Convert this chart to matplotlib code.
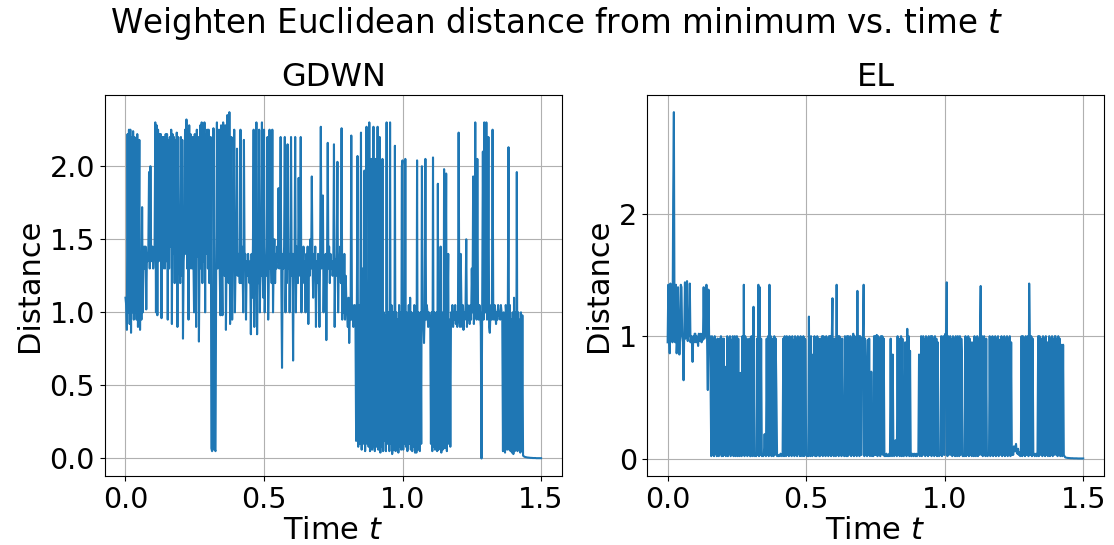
import numpy as np
import matplotlib
matplotlib.use('Agg')
import matplotlib.pyplot as plt

# sample spacing of the recorded distances
dt = 0.0025

# GDWN: distance from minimum, one value every dt, starting at t = 0
gdwn = [
    1.10, 1.05, 0.88, 2.22, 1.00, 2.25, 0.92, 2.25, 0.86, 2.20, 1.00, 2.24, 0.95, 2.20, 1.00, 1.40, 0.95, 2.22, 0.90, 1.40,  # 0.00
    2.18, 0.88, 1.40, 0.95, 1.72, 1.00, 1.35, 1.45, 1.30, 1.45, 1.02, 1.40, 1.35, 1.45, 1.96, 1.30, 2.00, 1.40, 1.35, 1.45,  # 0.05
    1.30, 1.38, 1.45, 2.30, 1.00, 2.28, 0.98, 2.25, 1.35, 2.22, 1.60, 2.22, 0.96, 2.20, 1.30, 2.20, 1.60, 1.30, 2.22, 1.35,  # 0.10
    2.22, 0.95, 2.18, 1.30, 2.20, 1.45, 2.25, 0.92, 2.22, 1.40, 2.20, 1.20, 2.18, 1.35, 2.23, 0.90, 2.20, 1.30, 1.40, 1.20,  # 0.15
    2.20, 1.25, 2.18, 0.82, 1.35, 1.45, 2.25, 1.40, 2.32, 1.30, 2.25, 0.95, 2.28, 1.30, 2.22, 1.45, 1.30, 2.20, 1.40, 1.00,  # 0.20
    2.22, 1.45, 0.90, 2.25, 1.38, 2.20, 0.80, 1.40, 2.28, 1.30, 2.30, 1.20, 2.25, 1.35, 2.30, 1.00, 2.22, 1.40, 2.25, 1.30,  # 0.25
    2.25, 1.20, 1.40, 2.20, 0.07, 0.05, 0.06, 2.26, 1.30, 0.06, 0.05, 1.35, 2.30, 1.30, 1.40, 2.25, 1.30, 0.98, 2.28, 1.35,  # 0.30
    0.98, 2.30, 1.35, 1.25, 2.28, 0.88, 1.40, 2.35, 1.30, 1.20, 2.37, 0.92, 1.35, 2.20, 0.95, 1.40, 1.30, 2.25, 1.00, 1.35,  # 0.35
    1.30, 2.12, 1.25, 1.40, 1.35, 1.20, 2.25, 1.20, 1.45, 1.32, 1.00, 2.18, 1.30, 1.40, 0.95, 1.35, 1.25, 1.40, 1.30, 1.20,  # 0.40
    1.35, 0.85, 1.40, 1.10, 1.45, 2.25, 0.90, 1.40, 1.30, 2.30, 0.85, 1.38, 1.20, 2.25, 1.00, 1.35, 1.25, 2.30, 1.30, 1.10,  # 0.45
    2.25, 1.00, 1.35, 1.25, 1.45, 2.20, 0.95, 1.30, 2.25, 1.30, 1.45, 1.20, 2.25, 1.00, 1.35, 1.50, 1.20, 1.40, 1.30, 1.45,  # 0.50
    1.35, 1.85, 1.30, 1.40, 2.20, 1.20, 0.62, 1.40, 1.30, 1.45, 2.20, 1.00, 1.35, 1.20, 2.15, 1.30, 1.40, 1.00, 1.35, 2.20,  # 0.55
    1.25, 1.40, 0.67, 1.40, 1.30, 2.20, 1.00, 1.45, 1.30, 1.20, 1.92, 1.35, 1.25, 2.20, 1.00, 1.40, 1.30, 1.45, 1.20, 1.35,  # 0.60
    1.00, 1.40, 1.20, 1.45, 0.92, 1.35, 1.25, 1.50, 1.30, 1.93, 1.35, 1.10, 1.40, 1.25, 1.45, 0.90, 1.35, 1.20, 1.40, 1.30,  # 0.65
    0.90, 1.38, 2.27, 1.30, 1.45, 1.80, 1.00, 1.35, 1.25, 1.40, 0.81, 1.35, 2.16, 1.30, 1.45, 1.20, 1.40, 1.30, 1.35, 1.25,  # 0.70
    1.30, 2.15, 0.90, 1.36, 1.25, 1.40, 2.03, 1.00, 1.38, 1.30, 1.45, 1.20, 2.26, 0.95, 1.30, 1.00, 1.40, 0.95, 1.25, 1.05,  # 0.75
    1.00, 0.90, 1.10, 0.79, 1.00, 0.95, 2.21, 0.95, 1.05, 0.90, 1.00, 1.05, 0.95, 0.12, 1.00, 2.07, 0.08, 1.05, 0.10, 1.00,  # 0.80
    2.23, 0.06, 1.30, 0.10, 0.15, 1.97, 0.05, 1.00, 2.27, 0.10, 1.04, 0.08, 2.30, 0.05, 0.12, 2.05, 0.06, 1.00, 2.27, 0.10,  # 0.85
    0.05, 2.05, 0.08, 1.00, 2.27, 0.06, 0.10, 2.20, 0.04, 1.00, 0.08, 2.05, 0.05, 1.00, 0.12, 0.98, 0.05, 2.30, 0.10, 1.00,  # 0.90
    1.00, 0.05, 2.30, 0.10, 1.05, 0.03, 0.08, 1.00, 0.06, 2.14, 0.05, 1.00, 0.10, 0.95, 0.04, 1.05, 0.08, 1.00, 0.06, 2.00,  # 0.95
    2.04, 0.06, 1.00, 0.10, 2.05, 0.08, 1.00, 0.05, 0.12, 1.05, 0.10, 1.10, 0.06, 1.00, 0.05, 0.95, 0.08, 1.05, 0.04, 1.00,  # 1.00
    0.04, 2.04, 0.06, 1.00, 0.08, 0.05, 1.00, 0.10, 2.00, 1.00, 0.95, 0.79, 1.00, 2.05, 0.95, 1.05, 1.00, 0.90, 1.00, 0.95,  # 1.05
    0.95, 0.10, 1.00, 0.05, 2.06, 0.08, 1.00, 0.06, 0.10, 1.00, 0.05, 1.88, 0.06, 1.00, 0.08, 1.45, 0.04, 1.00, 0.06, 0.10,  # 1.10
    1.98, 0.07, 1.00, 1.95, 0.05, 1.00, 1.40, 0.10, 0.95, 0.08, 1.00, 0.95, 1.05, 0.90, 1.00, 0.95, 1.05, 0.92, 1.00, 0.90,  # 1.15
    0.95, 2.23, 1.00, 0.90, 1.40, 1.05, 0.90, 1.05, 0.88, 1.00, 0.95, 1.05, 1.50, 0.90, 1.05, 0.95, 1.00, 0.92, 1.05, 0.95,  # 1.20
    1.30, 1.00, 1.93, 0.92, 1.05, 2.30, 1.00, 0.95, 2.05, 1.00, 0.95, 1.05, 1.00, 0.90, 0.00, 1.00, 2.10, 0.95, 2.30, 1.00,  # 1.25
    1.00, 2.30, 0.95, 1.05, 2.20, 0.90, 0.86, 1.00, 1.05, 0.95, 2.25, 1.00, 0.95, 1.05, 1.00, 0.92, 1.00, 0.95, 1.05, 0.98,  # 1.30
    1.00, 0.95, 1.05, 1.00, 0.95, 0.05, 1.00, 0.08, 0.04, 1.05, 0.98, 0.06, 1.00, 2.13, 0.06, 1.05, 0.05, 0.95, 0.04, 1.00,  # 1.35
    0.03, 1.10, 0.05, 1.00, 0.06, 1.96, 0.05, 1.00, 0.06, 0.95, 0.04, 1.00, 0.05, 0.98, 0.02,                                # 1.40
    0.015, 0.012, 0.010, 0.009, 0.008, 0.007, 0.006, 0.006, 0.005, 0.005, 0.004, 0.004, 0.004,                                # 1.4375
    0.003, 0.003, 0.003, 0.003, 0.003, 0.002, 0.002, 0.002, 0.002, 0.002, 0.002, 0.002, 0.002,
]

# EL: distance from minimum, same sampling
el = [
    0.95, 1.42, 1.00, 0.86, 1.43, 1.00, 1.40, 0.95, 2.11, 2.83, 1.00, 0.95, 1.42, 0.86, 1.00, 1.40, 1.02, 0.85, 1.00, 1.42,  # 0.00
    1.40, 1.00, 0.95, 0.64, 1.02, 1.44, 0.98, 1.00, 1.45, 0.96, 1.02, 1.00, 1.43, 0.95, 1.00, 0.98, 0.79, 1.00, 0.95, 1.02,  # 0.05
    1.02, 0.95, 1.00, 0.98, 0.92, 1.02, 1.00, 0.96, 1.02, 0.95, 1.00, 0.97, 1.40, 0.98, 1.38, 1.00, 1.42, 0.95, 0.56, 1.38,  # 0.10
    0.95, 1.00, 0.60, 0.02, 1.00, 0.03, 0.98, 0.02, 1.00, 0.04, 0.85, 0.02, 0.98, 0.03, 0.02, 0.98, 0.04, 1.00, 0.02, 0.98,  # 0.15
    0.02, 0.98, 0.03, 0.75, 0.02, 0.03, 1.00, 0.02, 0.98, 0.04, 1.00, 0.02, 0.97, 0.03, 1.00, 0.02, 0.03, 1.00, 0.02, 0.98,  # 0.20
    1.00, 0.02, 0.98, 0.03, 0.02, 0.70, 0.03, 0.02, 1.00, 0.03, 1.42, 0.02, 1.00, 0.03, 0.98, 0.02, 0.03, 0.04, 0.98, 0.02,  # 0.25
    0.02, 1.00, 0.03, 0.02, 1.24, 0.03, 0.02, 0.04, 0.02, 0.98, 0.03, 1.42, 0.02, 1.40, 0.03, 0.98, 0.02, 0.03, 0.02, 0.04,  # 0.30
    0.20, 0.03, 0.02, 0.98, 0.03, 1.00, 0.02, 1.42, 0.03, 1.00, 0.02, 0.98, 0.03, 0.02, 1.00, 0.03, 0.98, 0.55, 0.02, 0.03,  # 0.35
    0.02, 0.03, 0.02, 0.04, 0.03, 0.02, 0.03, 0.98, 0.02, 1.00, 0.03, 0.02, 1.00, 0.03, 0.98, 0.02, 1.00, 0.03, 0.98, 0.02,  # 0.40
    1.00, 0.03, 0.97, 0.02, 1.00, 0.03, 0.98, 0.02, 1.00, 0.04, 0.98, 0.02, 1.00, 0.03, 0.02, 0.03, 1.00, 0.02, 0.98, 0.97,  # 0.45
    0.03, 0.02, 0.03, 0.02, 1.16, 0.03, 0.02, 1.00, 0.03, 0.02, 0.85, 0.03, 1.00, 0.02, 0.03, 0.02, 1.00, 0.03, 0.98, 0.02,  # 0.50
    0.02, 0.98, 0.03, 1.00, 0.02, 1.00, 0.03, 0.98, 0.02, 1.00, 0.03, 0.98, 0.02, 1.00, 0.03, 1.00, 0.02, 0.98, 1.31, 0.03,  # 0.55
    0.02, 0.98, 0.03, 0.02, 1.42, 0.03, 1.00, 0.02, 1.00, 0.03, 0.98, 0.02, 0.98, 0.03, 0.45, 0.02, 1.00, 0.03, 0.02, 1.00,  # 0.60
    0.02, 1.00, 0.03, 0.98, 1.00, 0.02, 0.98, 0.03, 1.02, 0.02, 1.00, 0.03, 0.98, 0.02, 1.37, 0.03, 1.00, 0.02, 1.00, 0.03,  # 0.65
    0.03, 0.98, 1.00, 1.42, 0.02, 0.98, 0.75, 0.03, 0.02, 0.97, 0.03, 0.98, 0.02, 0.03, 0.71, 0.02, 0.03, 0.02, 1.00, 0.03,  # 0.70
    1.00, 0.03, 1.01, 0.02, 1.00, 0.03, 0.98, 0.02, 1.00, 0.04, 1.00, 0.03, 0.98, 0.02, 0.03, 0.02, 0.04, 0.02, 0.03, 0.02,  # 0.75
    0.04, 0.02, 0.98, 0.03, 0.02, 0.85, 0.03, 0.02, 0.04, 0.15, 0.03, 0.02, 1.00, 0.03, 0.98, 0.02, 0.03, 1.00, 0.02, 0.98,  # 0.80
    0.03, 0.02, 0.04, 0.95, 0.03, 0.02, 1.06, 0.03, 1.00, 0.02, 0.88, 0.03, 0.02, 0.04, 0.03, 0.02, 0.04, 0.03, 0.02, 0.04,  # 0.85
    0.02, 0.03, 0.04, 0.85, 0.02, 0.03, 1.00, 0.02, 0.98, 1.00, 0.03, 0.98, 0.02, 1.00, 0.03, 0.98, 0.02, 1.00, 0.03, 0.98,  # 0.90
    1.00, 0.02, 1.00, 0.97, 0.03, 0.02, 1.00, 0.03, 0.98, 0.02, 0.95, 0.03, 0.02, 0.04, 0.03, 1.00, 0.02, 0.98, 1.00, 0.03,  # 0.95
    0.03, 1.02, 0.98, 1.44, 0.02, 1.00, 0.03, 0.98, 1.00, 0.03, 0.98, 0.02, 1.00, 0.03, 0.98, 0.02, 1.00, 0.03, 0.02, 1.00,  # 1.00
    0.98, 0.02, 1.00, 0.03, 0.98, 0.80, 0.02, 0.03, 0.02, 0.03, 1.00, 0.02, 0.98, 0.03, 1.00, 0.02, 0.98, 0.03, 0.95, 0.02,  # 1.05
    0.03, 0.95, 0.02, 1.00, 0.03, 0.02, 0.03, 1.00, 0.02, 0.98, 0.03, 1.00, 1.41, 0.03, 1.00, 0.02, 0.98, 1.00, 0.03, 0.02,  # 1.10
    0.98, 0.03, 0.02, 0.04, 0.03, 1.00, 0.02, 0.98, 0.03, 1.00, 0.02, 0.98, 0.03, 1.00, 0.02, 0.98, 0.03, 1.00, 0.02, 0.97,  # 1.15
    0.97, 0.03, 1.00, 0.02, 0.98, 0.03, 1.00, 0.02, 0.98, 0.03, 1.00, 0.02, 0.98, 0.03, 1.00, 0.02, 0.95, 0.03, 0.05, 0.03,  # 1.20
    0.10, 0.06, 0.08, 0.12, 0.05, 0.04, 0.08, 0.03, 0.05, 0.02, 0.03, 1.00, 0.02, 1.00, 0.03, 0.98, 0.02, 1.00, 0.03, 0.98,  # 1.25
    1.00, 0.02, 1.43, 0.98, 0.03, 1.00, 0.02, 0.98, 0.03, 0.04, 0.02, 0.03, 0.04, 0.02, 0.03, 1.00, 0.02, 1.00, 0.03, 0.98,  # 1.30
    0.98, 0.02, 1.00, 0.03, 0.98, 0.02, 1.00, 0.03, 0.95, 0.02, 0.03, 1.00, 0.02, 0.98, 0.03, 1.00, 0.02, 0.98, 0.03, 1.00,  # 1.35
    1.00, 0.03, 0.98, 0.02, 1.00, 0.03, 0.98, 0.02, 0.93, 0.03, 0.02, 0.93, 0.03, 0.02, 0.01,                                # 1.40
    0.008, 0.007, 0.006, 0.005, 0.005, 0.004, 0.004, 0.003, 0.003, 0.003, 0.003, 0.002, 0.002,                                # 1.4375
    0.002, 0.002, 0.002, 0.002, 0.001, 0.001, 0.001, 0.001, 0.001, 0.001, 0.001, 0.001, 0.001,
]

series = [('GDWN', gdwn), ('EL', el)]

fig, axes = plt.subplots(1, 2, figsize=(11.14, 5.45), dpi=100)
fig.subplots_adjust(left=0.094, right=0.991, bottom=0.127, top=0.826, wspace=0.186)

for ax, (name, values) in zip(axes, series):
    t = dt * np.arange(len(values))
    ax.plot(t, values)
    ax.set_title(name, fontsize=23)
    ax.set_xlabel('Time $t$', fontsize=22, labelpad=2)
    ax.set_ylabel('Distance', fontsize=22)
    ax.tick_params(labelsize=20.5)
    ax.grid(True)

fig.suptitle('Weighten Euclidean distance from minimum vs. time $t$', fontsize=23.5, y=0.99)
fig.savefig('out.png', dpi=100)
